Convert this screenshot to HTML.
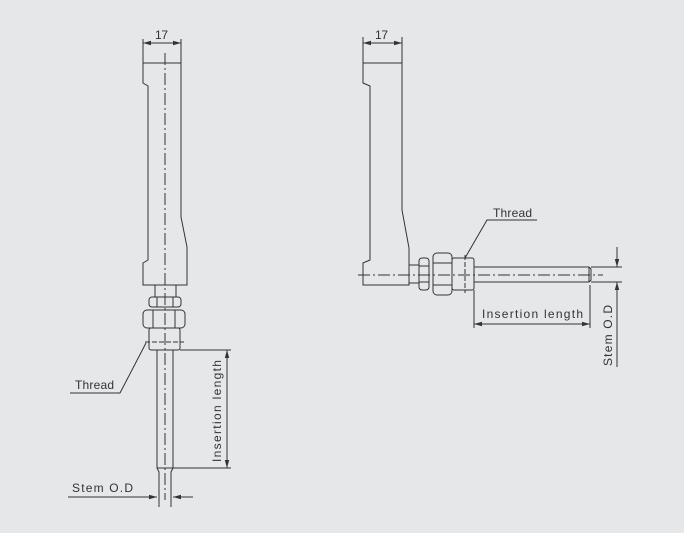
<!DOCTYPE html>
<html><head><style>html,body{margin:0;padding:0;background:#e6e7e9;}svg{display:block}</style></head><body>
<svg width="684" height="533" viewBox="0 0 684 533" xmlns="http://www.w3.org/2000/svg" font-family="Liberation Sans, sans-serif" font-size="12" fill="none" stroke="#333" stroke-width="1">
<defs>
<marker id="a" markerWidth="8" markerHeight="6" refX="8" refY="3" orient="auto-start-reverse" markerUnits="userSpaceOnUse"><path d="M0,0.8 L8,3 L0,5.2 z" fill="#333" stroke="none"/></marker>
</defs>
<!-- LEFT FIGURE -->
<path d="M143,63 H181 V217 L187,247 V285 H143 V263 L148,260 V86 L143,83 Z"/>
<line x1="143" y1="39" x2="143" y2="63"/><line x1="181" y1="39" x2="181" y2="63"/>
<line x1="143" y1="43" x2="181" y2="43" marker-start="url(#a)" marker-end="url(#a)"/>
<text x="155" y="39" fill="#333" stroke="none" textLength="13" lengthAdjust="spacing">17</text>
<rect x="155" y="285" width="21" height="12"/>
<rect x="149" y="297" width="32" height="10" rx="3"/>
<line x1="157" y1="297" x2="157" y2="307"/><line x1="173" y1="297" x2="173" y2="307"/>
<rect x="143" y="310" width="42" height="18" rx="4"/>
<line x1="153" y1="310" x2="153" y2="328"/><line x1="175" y1="310" x2="175" y2="328"/>
<rect x="149" y="328" width="31" height="22" rx="2"/>
<line x1="145" y1="342" x2="184" y2="342" stroke-dasharray="5,2"/>
<path d="M157,350 V468 L159,472 V507 M173,350 V468 L171,472 V507 M157,468 H173"/>
<line x1="165" y1="53" x2="165" y2="500" stroke-dasharray="12,3,2,3"/>
<line x1="180" y1="350" x2="231" y2="350"/><line x1="173" y1="468" x2="231" y2="468"/>
<line x1="227" y1="350" x2="227" y2="468" marker-start="url(#a)" marker-end="url(#a)"/>
<text transform="translate(221,462) rotate(-90)" fill="#333" stroke="none" textLength="102" lengthAdjust="spacing">Insertion length</text>
<path d="M146,343 L120,393 H70"/>
<text x="75" y="389" fill="#333" stroke="none" textLength="39" lengthAdjust="spacing">Thread</text>
<line x1="68" y1="497" x2="157" y2="497" marker-end="url(#a)"/>
<line x1="193" y1="497" x2="173" y2="497" marker-end="url(#a)"/>
<text x="72" y="492" fill="#333" stroke="none" textLength="61" lengthAdjust="spacing">Stem O.D</text>
<!-- RIGHT FIGURE -->
<path d="M363,63 H402 V210 L409,248 V285 H363 V263 L370,260 V86 L363,83 Z"/>
<line x1="363" y1="37" x2="363" y2="63"/><line x1="402" y1="37" x2="402" y2="63"/>
<line x1="363" y1="43" x2="402" y2="43" marker-start="url(#a)" marker-end="url(#a)"/>
<text x="375" y="39" fill="#333" stroke="none" textLength="13" lengthAdjust="spacing">17</text>
<rect x="409" y="265" width="10" height="18"/>
<rect x="419" y="258" width="10" height="32" rx="3"/>
<line x1="419" y1="266" x2="429" y2="266"/><line x1="419" y1="282" x2="429" y2="282"/>
<rect x="433" y="253" width="19" height="42" rx="4"/>
<line x1="433" y1="263" x2="452" y2="263"/><line x1="433" y1="285" x2="452" y2="285"/>
<rect x="452" y="258" width="22" height="32" rx="2"/>
<line x1="465" y1="255" x2="465" y2="293" stroke-dasharray="5,2"/>
<path d="M474,267 H589 L591,269 V280 L589,282 H474 M589,267 V282"/>
<line x1="358" y1="275" x2="603" y2="275" stroke-dasharray="12,3,2,3"/>
<line x1="474" y1="290" x2="474" y2="328"/><line x1="590" y1="285" x2="590" y2="328"/>
<line x1="474" y1="324" x2="590" y2="324" marker-start="url(#a)" marker-end="url(#a)"/>
<text x="482" y="318" fill="#333" stroke="none" textLength="101" lengthAdjust="spacing">Insertion length</text>
<line x1="591" y1="267" x2="622" y2="267"/><line x1="591" y1="282" x2="622" y2="282"/>
<line x1="617" y1="247" x2="617" y2="267" marker-end="url(#a)"/>
<line x1="617" y1="367" x2="617" y2="282" marker-end="url(#a)"/>
<text transform="translate(612,366) rotate(-90)" fill="#333" stroke="none" textLength="61" lengthAdjust="spacing">Stem O.D</text>
<path d="M465,258 L487,220 H537"/>
<text x="493" y="217" fill="#333" stroke="none" textLength="39" lengthAdjust="spacing">Thread</text>
</svg>
</body></html>
